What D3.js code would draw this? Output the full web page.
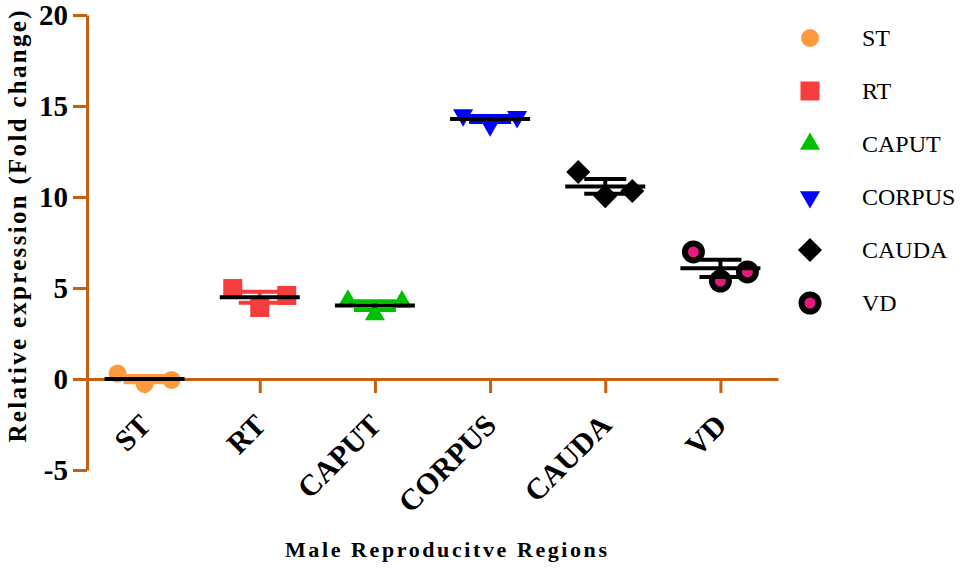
<!DOCTYPE html>
<html><head><meta charset="utf-8">
<script src="https://cdn.jsdelivr.net/npm/d3@7"></script>
<style>body{margin:0;background:#fff}svg{display:block}</style>
</head><body><svg id="c" width="962" height="568"></svg>
<script>
// ---- data ----
const categories = ["ST", "RT", "CAPUT", "CORPUS", "CAUDA", "VD"];
const ST     = [0.30, -0.27, -0.05];
const RT     = [4.97, 3.93, 4.59];
const CAPUT  = [4.30, 3.55, 4.25];
const CORPUS = [14.50, 13.95, 14.40];
const CAUDA  = [11.37, 10.05, 10.33];
const VD     = [6.98, 5.38, 5.88];
const yTicks = [-5, 0, 5, 10, 15, 20];
const yTickLabels = ["-5", "0", "5", "10", "15", "20"];
const replicates = ["r1", "r2", "r3"];
const yTitle = "Relative expression (Fold change)";
const xTitle = "Male Reproducitve Regions";

const values = [ST, RT, CAPUT, CORPUS, CAUDA, VD];
const colors = ["#ff9a3c", "#f53d3d", "#00c000", "#0000ff", "#000000", "#000000"];
const axisColor = "#c4600f";
const serif = "'Liberation Serif','Times New Roman',serif";

const svg = d3.select("#c");
const x = d3.scalePoint().domain(categories).range([87, 778]).padding(0.5);
const y = d3.scaleLinear().domain([-5, 20]).range([470, 15]);
const jit = d3.scalePoint().domain(replicates).range([-27, 27]);

function symbolFor(i) {
  const s = d3.symbol();
  if (i === 0) return s.type(d3.symbolCircle).size(254)();
  if (i === 1) return s.type(d3.symbolSquare).size(361)();
  if (i === 2 || i === 3) return s.type(d3.symbolTriangle).size(175)();
  if (i === 4) return s.type(d3.symbolSquare).size(290)();
  return s.type(d3.symbolCircle).size(227)();
}
function rot(i) { return i === 3 ? " rotate(180)" : (i === 4 ? " rotate(45)" : ""); }
function styleMarker(sel, i) {
  if (i === 5) sel.attr("fill", "#e8197d").attr("stroke", "#000").attr("stroke-width", 6);
  else sel.attr("fill", colors[i]).attr("stroke", "none");
}

// ---- axes ----
const yAxis = d3.axisLeft(y).tickValues(yTicks).tickSize(14).tickSizeOuter(0).tickPadding(5)
  .tickFormat((d, k) => yTickLabels[k]);
const gy = svg.append("g").attr("transform", "translate(87,0)").call(yAxis);
gy.select(".domain").attr("stroke", axisColor).attr("stroke-width", 3);
gy.selectAll(".tick line").attr("stroke", axisColor).attr("stroke-width", 3);
gy.selectAll(".tick text").attr("font-family", serif).attr("font-weight", "bold")
  .attr("font-size", 29).attr("fill", "#000").attr("dy", "0.34em");

const xAxis = d3.axisBottom(x).tickSize(14).tickSizeOuter(0).tickFormat("");
const gx = svg.append("g").attr("transform", `translate(0,${y(0)})`).call(xAxis);
gx.select(".domain").attr("stroke", axisColor).attr("stroke-width", 3);
gx.selectAll(".tick line").attr("stroke", axisColor).attr("stroke-width", 3);

// rotated category labels
svg.append("g").selectAll("text").data(categories).join("text")
  .attr("transform", d => `translate(${x(d) + 8},${y(0) + 48}) rotate(-45)`)
  .attr("text-anchor", "end")
  .attr("font-family", serif).attr("font-weight", "bold").attr("font-size", 30)
  .attr("fill", "#000").text(d => d);

// axis titles
svg.append("text")
  .attr("transform", `translate(26,${(10 + 443) / 2}) rotate(-90)`)
  .attr("text-anchor", "middle")
  .attr("font-family", serif).attr("font-weight", "bold").attr("font-size", 25)
  .attr("textLength", 432).attr("lengthAdjust", "spacing")
  .text(yTitle);
svg.append("text")
  .attr("x", 446).attr("y", 557)
  .attr("text-anchor", "middle")
  .attr("font-family", serif).attr("font-weight", "bold").attr("font-size", 22)
  .attr("textLength", 322).attr("lengthAdjust", "spacing")
  .text(xTitle);

// ---- data marks ----
const plot = svg.append("g");
categories.forEach((c, i) => {
  const vals = values[i];
  const mg = plot.append("g");
  mg.selectAll("path").data(vals).join("path")
    .attr("d", symbolFor(i))
    .attr("transform", (v, k) => `translate(${x(c) + jit(replicates[k])},${y(v)})${rot(i)}`)
    .call(sel => styleMarker(sel, i));
});
categories.forEach((c, i) => {
  const vals = values[i];
  const m = d3.mean(vals);
  const sem = d3.deviation(vals) / Math.sqrt(vals.length);
  const col = colors[i];
  const eg = plot.append("g").attr("stroke", col).attr("stroke-width", 4).attr("fill", "none");
  eg.append("line").attr("x1", x(c)).attr("x2", x(c)).attr("y1", y(m - sem)).attr("y2", y(m + sem));
  [m - sem, m + sem].forEach(v => {
    eg.append("line").attr("x1", x(c) - 21).attr("x2", x(c) + 21).attr("y1", y(v)).attr("y2", y(v));
  });
  plot.append("line").attr("x1", x(c) - 40).attr("x2", x(c) + 40)
    .attr("y1", y(m)).attr("y2", y(m)).attr("stroke", "#000").attr("stroke-width", 4);
});

// ---- legend ----
const legendY = d3.scalePoint().domain(categories).range([38, 303]);
const lg = svg.append("g");
categories.forEach((c, i) => {
  const p = lg.append("path").attr("d", symbolFor(i))
    .attr("transform", `translate(810,${legendY(c)})${rot(i)}`);
  styleMarker(p, i);
  lg.append("text").attr("x", 862).attr("y", legendY(c) + 8)
    .attr("font-family", serif).attr("font-size", 24).attr("fill", "#000").text(c);
});
</script></body></html>
